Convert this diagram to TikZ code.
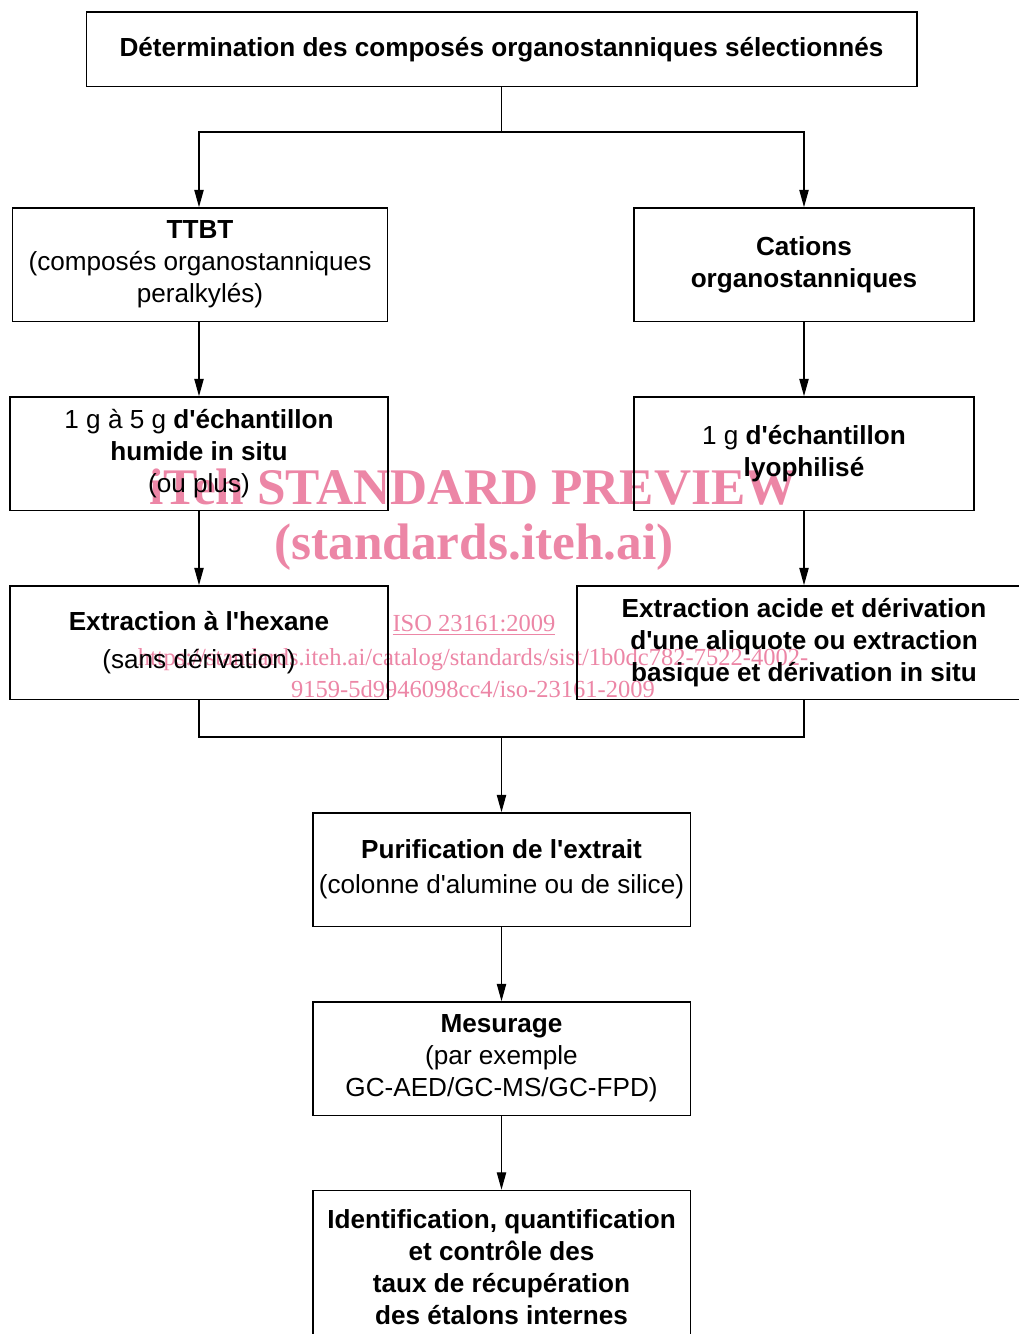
\documentclass[tikz,border=0pt]{standalone}
\usepackage{fontspec}
\setmainfont{Liberation Sans}[Ligatures=TeXOff]
\newfontfamily\markfont{Liberation Serif}
\usetikzlibrary{arrows.meta}

\definecolor{markpink}{RGB}{236,134,166}

\tikzset{
  stage/.style={draw, line width=1pt, align=center, inner sep=0pt,
    font=\fontsize{19.6}{24}\selectfont},
  boldstage/.style={stage, font=\fontsize{19.6}{24}\selectfont\bfseries},
  flow/.style={line width=0.9pt, -{Triangle[length=13pt,width=7pt]}},
  link/.style={line width=0.9pt},
  watermark/.style={text=markpink, inner sep=0pt}
}

\begin{document}
\begin{tikzpicture}[x=0.75pt,y=-0.75pt]
    \useasboundingbox (0,0) rectangle (1018,1334);

    % Watermark
    \node[watermark, font=\markfont\bfseries\fontsize{38.5}{38.5}\selectfont] (wmA) at (473,487) {iTeh STANDARD PREVIEW};
    \node[watermark, font=\markfont\bfseries\fontsize{38.5}{38.5}\selectfont] (wmB) at (474,547) {(standards.iteh.ai)};
    \node[watermark, font=\markfont\fontsize{18.4}{18.4}\selectfont] (wmC) at (474,625) {\underline{ISO 23161:2009}};
    \node[watermark, font=\markfont\fontsize{18.4}{24}\selectfont, align=center] (wmD) at (473,673)
      {https://standards.iteh.ai/catalog/standards/sist/1b0dc782-7522-4002-\\9159-5d9946098cc4/iso-23161-2009};

    % Top stage
    \node[boldstage, minimum width=623pt, minimum height=56pt] (top) at (501.5,49.5)
      {Détermination des composés organostanniques sélectionnés};

    % Left branch
    \node[stage, minimum width=281pt, minimum height=85pt] (ttbt) at (200,264.5)
      {\textbf{TTBT}\\(composés organostanniques\\peralkylés)};
    \node[stage, minimum width=283.5pt, minimum height=85pt] (wet) at (199,453.5)
      {1 g à 5 g \textbf{d'échantillon}\\\textbf{humide in situ}\\(ou plus)};
    \node[stage, minimum width=283.5pt, minimum height=85pt] (hexane) at (199,642.5)
      {\textbf{Extraction à l'hexane}\\[4pt](sans dérivation)};

    % Right branch
    \node[boldstage, minimum width=255pt, minimum height=85pt] (cations) at (804,264.5)
      {Cations\\organostanniques};
    \node[stage, minimum width=255pt, minimum height=85pt] (dry) at (804,453.5)
      {1 g \textbf{d'échantillon}\\\textbf{lyophilisé}};
    \node[boldstage, minimum width=340.5pt, minimum height=85pt] (acid) at (804,642.5)
      {Extraction acide et dérivation\\d'une aliquote ou extraction\\basique et dérivation in situ};

    % Common stages
    \node[stage, minimum width=283pt, minimum height=85pt] (purif) at (501.5,869.5)
      {\textbf{Purification de l'extrait}\\[2pt](colonne d'alumine ou de silice)};
    \node[stage, minimum width=283pt, minimum height=85pt] (measure) at (501.5,1058.5)
      {\textbf{Mesurage}\\(par exemple\\GC-AED/GC-MS/GC-FPD)};
    \node[boldstage, minimum width=283pt, minimum height=115pt] (ident) at (501.5,1267)
      {Identification, quantification\\et contrôle des\\taux de récupération\\des étalons internes};

    % Split and join points
    \coordinate (split) at (501.5,132);
    \coordinate (join) at (501.5,737);

    % Connectors
    \draw[link] (top.south) -- (split);
    \draw[flow] (split) -| (wet.north |- ttbt.north);
    \draw[flow] (split) -| (cations.north);
    \draw[flow] (wet.north |- ttbt.south) -- (wet.north);
    \draw[flow] (cations.south) -- (dry.north);
    \draw[flow] (wet.south) -- (hexane.north);
    \draw[flow] (dry.south) -- (acid.north);
    \draw[link] (hexane.south) |- (join);
    \draw[link] (acid.south) |- (join);
    \draw[flow] (join) -- (purif.north);
    \draw[flow] (purif.south) -- (measure.north);
    \draw[flow] (measure.south) -- (ident.north);
\end{tikzpicture}
\end{document}
